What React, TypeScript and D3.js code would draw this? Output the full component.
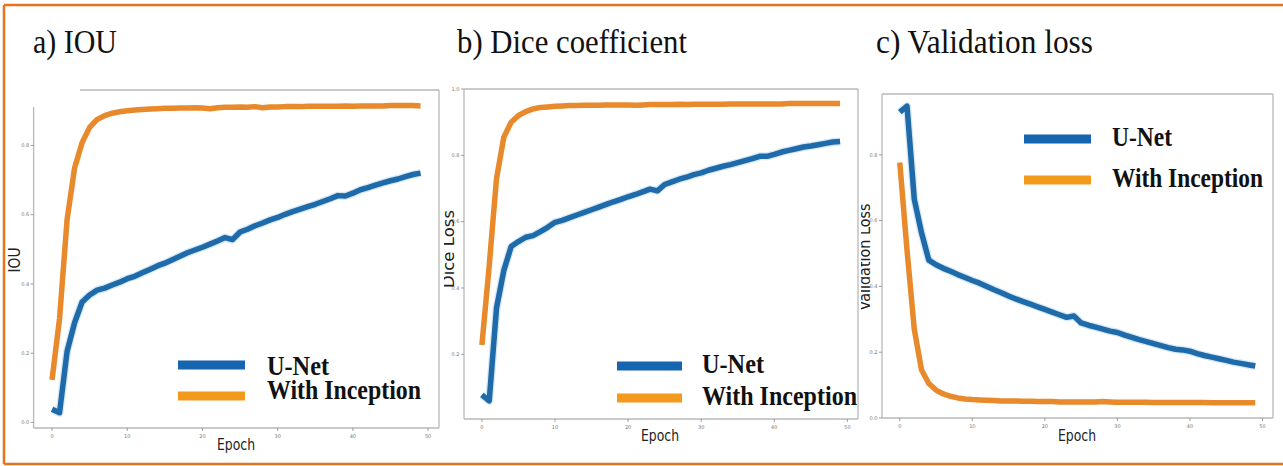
import React from 'react';
import * as d3 from 'd3';

// epochs 0..49 on every panel
const epochs = d3.range(0, 50);
const xTicks = [0, 10, 20, 30, 40, 50];
const seriesNames = ['U-Net', 'With Inception'];

const titles = ['a) IOU', 'b) Dice coefficient', 'c) Validation loss'];
const yLabels = ['IOU', 'Dice Loss', 'Validation Loss'];
const xLabel = 'Epoch';

const iouUnet = [0.038, 0.028, 0.205, 0.288, 0.348, 0.368, 0.382, 0.388, 0.397, 0.405,
  0.415, 0.422, 0.432, 0.442, 0.452, 0.46, 0.47, 0.48, 0.49, 0.498,
  0.506, 0.515, 0.524, 0.534, 0.528, 0.55, 0.558, 0.568, 0.576, 0.585,
  0.592, 0.601, 0.609, 0.616, 0.623, 0.63, 0.638, 0.646, 0.655, 0.654,
  0.662, 0.672, 0.678, 0.685, 0.692, 0.698, 0.703, 0.71, 0.716, 0.72];
const iouInception = [0.123, 0.3, 0.585, 0.735, 0.808, 0.852, 0.875, 0.886, 0.893, 0.897,
  0.9, 0.902, 0.904, 0.905, 0.906, 0.907, 0.907, 0.908, 0.908, 0.909,
  0.908, 0.906, 0.909, 0.91, 0.91, 0.911, 0.91, 0.912, 0.909, 0.911,
  0.911, 0.912, 0.912, 0.912, 0.913, 0.913, 0.913, 0.913, 0.913, 0.914,
  0.913, 0.914, 0.914, 0.914, 0.914, 0.915, 0.915, 0.915, 0.915, 0.914];

const diceUnet = [0.078, 0.06, 0.34, 0.453, 0.525, 0.54, 0.553, 0.558, 0.57, 0.583,
  0.598, 0.604, 0.612, 0.62, 0.628, 0.636, 0.644, 0.652, 0.66, 0.667,
  0.675, 0.682, 0.69, 0.698, 0.693, 0.712, 0.72, 0.728, 0.734, 0.742,
  0.747, 0.755, 0.761, 0.767, 0.772, 0.778, 0.784, 0.79, 0.797, 0.797,
  0.803, 0.81, 0.815, 0.82, 0.825, 0.828, 0.832, 0.836, 0.84, 0.842];
const diceInception = [0.228, 0.468, 0.73, 0.855, 0.9, 0.92, 0.932, 0.94, 0.944, 0.946,
  0.948, 0.949, 0.95, 0.95, 0.951, 0.951, 0.951, 0.952, 0.952, 0.952,
  0.952, 0.951, 0.952, 0.953, 0.953, 0.953, 0.953, 0.954, 0.953, 0.954,
  0.954, 0.954, 0.954, 0.954, 0.955, 0.955, 0.955, 0.955, 0.955, 0.955,
  0.955, 0.955, 0.956, 0.956, 0.956, 0.956, 0.956, 0.956, 0.956, 0.956];

const lossUnet = [0.93, 0.948, 0.665, 0.563, 0.48, 0.466, 0.455, 0.446, 0.436, 0.427,
  0.418, 0.41, 0.4, 0.39, 0.381, 0.371, 0.362, 0.354, 0.346, 0.338,
  0.33, 0.322, 0.314, 0.306, 0.31, 0.289, 0.282, 0.276, 0.27, 0.264,
  0.26, 0.252, 0.245, 0.238, 0.232, 0.226, 0.22, 0.214, 0.209, 0.207,
  0.203, 0.196, 0.19, 0.185, 0.18, 0.175, 0.17, 0.166, 0.162, 0.158];
const lossInception = [0.777, 0.51, 0.27, 0.146, 0.105, 0.085, 0.073, 0.066, 0.061, 0.058,
  0.056, 0.055, 0.054, 0.053, 0.052, 0.052, 0.052, 0.051, 0.051, 0.05,
  0.05, 0.05, 0.049, 0.049, 0.049, 0.049, 0.049, 0.049, 0.05, 0.049,
  0.048, 0.048, 0.048, 0.048, 0.048, 0.047, 0.047, 0.047, 0.047, 0.047,
  0.047, 0.047, 0.047, 0.046, 0.046, 0.046, 0.046, 0.046, 0.046, 0.046];

const BLUE = '#1f6aa8';
const BLUE_HALO = '#b9d8ee';
const ORANGE = '#e8892b';
const LEG_BLUE = '#1565b0';
const LEG_ORANGE = '#f39a1c';
const SPINE = '#b8b8b8';

interface Legend {
  barX0: number; barX1: number; blueY: number; orangeY: number;
  textX: number; netY: number; incY: number; netW: number; incW: number;
}

interface Panel {
  left: number; right: number; top: number; bottom: number;
  topStart: number; leftStart: number;
  yDomain: [number, number]; yTicks: number[];
  unet: number[]; inception: number[];
  titleX: number; titleW: number;
  yLabelX: number; yLabelY: number; yLabelW: number; clipX: number;
  epochX: number; epochY: number;
  legend: Legend;
}

const panels: Panel[] = [
  {
    left: 33.6, right: 439, top: 90, bottom: 428, topStart: 80, leftStart: 107,
    yDomain: [-0.016, 0.96], yTicks: [0, 0.2, 0.4, 0.6, 0.8],
    unet: iouUnet, inception: iouInception,
    titleX: 33, titleW: 84,
    yLabelX: 20, yLabelY: 260, yLabelW: 25, clipX: 0,
    epochX: 236, epochY: 450,
    legend: { barX0: 178, barX1: 245, blueY: 365, orangeY: 396, textX: 267, netY: 375, incY: 399, netW: 62, incW: 154 },
  },
  {
    left: 464, right: 858, top: 89, bottom: 419, topStart: 464, leftStart: 89,
    yDomain: [0.005, 1.0], yTicks: [0.2, 0.4, 0.6, 0.8, 1.0],
    unet: diceUnet, inception: diceInception,
    titleX: 457, titleW: 230,
    yLabelX: 454, yLabelY: 249, yLabelW: 78, clipX: 444,
    epochX: 660, epochY: 441,
    legend: { barX0: 617, barX1: 682, blueY: 366, orangeY: 398, textX: 702, netY: 373, incY: 405, netW: 62, incW: 155 },
  },
  {
    left: 882, right: 1273, top: 94, bottom: 418, topStart: 882, leftStart: 94,
    yDomain: [0, 0.985], yTicks: [0, 0.2, 0.4, 0.6, 0.8],
    unet: lossUnet, inception: lossInception,
    titleX: 876, titleW: 217,
    yLabelX: 870, yLabelY: 257, yLabelW: 107, clipX: 861,
    epochX: 1077, epochY: 441,
    legend: { barX0: 1024, barX1: 1091, blueY: 139, orangeY: 180, textX: 1112, netY: 146, incY: 187, netW: 60, incW: 151 },
  },
];

const ChartPanel: React.FC<{ p: Panel; i: number }> = ({ p, i }) => {
  const x = d3.scaleLinear().domain([-2.45, 51.45]).range([p.left, p.right]);
  const y = d3.scaleLinear().domain(p.yDomain).range([p.bottom, p.top]);
  const line = d3.line<number>().x((_, k) => x(epochs[k])).y(d => y(d));
  const lg = p.legend;
  const clipId = `ylab-clip-${i}`;

  return (
    <g>
      <text x={p.titleX} y={53} fontFamily="'Liberation Serif', serif" fontSize={33}
        textLength={p.titleW} lengthAdjust="spacingAndGlyphs" fill="#111">{titles[i]}</text>

      {/* frame */}
      <g stroke={SPINE} strokeWidth={1.3}>
        <line x1={p.topStart} x2={p.right} y1={p.top} y2={p.top} />
        <line x1={p.right} x2={p.right} y1={p.top} y2={p.bottom} />
        <line x1={p.left} x2={p.right} y1={p.bottom} y2={p.bottom} />
        <line x1={p.left} x2={p.left} y1={p.leftStart} y2={p.bottom} />
      </g>

      {xTicks.map(t => (
        <g key={'x' + t} transform={`translate(${x(t)},${p.bottom})`}>
          <line y2={3} stroke="#888" strokeWidth={0.8} />
          <text y={10} textAnchor="middle" fontSize={5} fill="#777" fontFamily="'DejaVu Sans', sans-serif">{t}</text>
        </g>
      ))}
      {p.yTicks.map(t => (
        <g key={'y' + t} transform={`translate(${p.left},${y(t)})`}>
          <line x2={-3} stroke="#888" strokeWidth={0.8} />
          <text x={-4.5} dy="0.35em" textAnchor="end" fontSize={5} fill="#777" fontFamily="'DejaVu Sans', sans-serif">{d3.format('.1f')(t)}</text>
        </g>
      ))}

      <clipPath id={clipId}>
        <rect x={p.clipX} y={0} width={200} height={466} />
      </clipPath>
      <g clipPath={`url(#${clipId})`}>
        <text transform={`translate(${p.yLabelX},${p.yLabelY}) rotate(-90)`}
          textAnchor="middle" fontFamily="'DejaVu Sans', sans-serif" fontSize={15} fill="#222"
          textLength={p.yLabelW} lengthAdjust="spacingAndGlyphs">{yLabels[i]}</text>
      </g>
      <text x={p.epochX} y={p.epochY} textAnchor="middle" fontFamily="'DejaVu Sans', sans-serif"
        fontSize={16} fill="#222" textLength={38} lengthAdjust="spacingAndGlyphs">{xLabel}</text>

      {/* series */}
      <path d={line(p.unet) ?? ''} fill="none" stroke={BLUE_HALO} strokeWidth={8} strokeLinejoin="round" opacity={0.6} />
      <path d={line(p.unet) ?? ''} fill="none" stroke={BLUE} strokeWidth={5.5} strokeLinejoin="round" />
      <path d={line(p.inception) ?? ''} fill="none" stroke={ORANGE} strokeWidth={5.5} strokeLinejoin="round" />

      {/* legend */}
      <line x1={lg.barX0} x2={lg.barX1} y1={lg.blueY} y2={lg.blueY} stroke={LEG_BLUE} strokeWidth={9} />
      <line x1={lg.barX0} x2={lg.barX1} y1={lg.orangeY} y2={lg.orangeY} stroke={LEG_ORANGE} strokeWidth={9} />
      <text x={lg.textX} y={lg.netY} fontFamily="'Liberation Serif', serif" fontWeight="bold" fontSize={27}
        fill="#111" textLength={lg.netW} lengthAdjust="spacingAndGlyphs">{seriesNames[0]}</text>
      <text x={lg.textX} y={lg.incY} fontFamily="'Liberation Serif', serif" fontWeight="bold" fontSize={27}
        fill="#111" textLength={lg.incW} lengthAdjust="spacingAndGlyphs">{seriesNames[1]}</text>
    </g>
  );
};

export default function App() {
  return (
    <svg width={1283} height={466} style={{ position: 'absolute', left: 0, top: 0, background: '#fff' }}>
      <rect x={0} y={0} width={1283} height={466} fill="#fff" />
      {/* outer orange frame (no right side visible) */}
      <g stroke="#e8731c" strokeWidth={2.5}>
        <line x1={4} x2={1283} y1={5} y2={5} />
        <line x1={4} x2={4} y1={5} y2={464} />
        <line x1={4} x2={1283} y1={464} y2={464} />
      </g>
      {panels.map((p, i) => <ChartPanel key={i} p={p} i={i} />)}
    </svg>
  );
}
